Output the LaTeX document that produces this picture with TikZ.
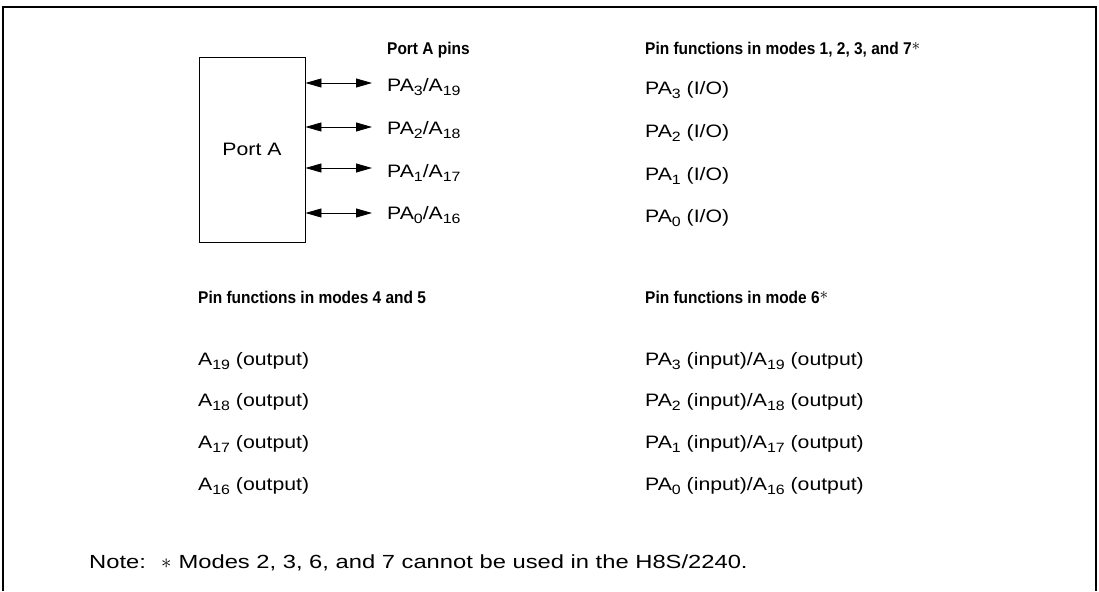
\documentclass[tikz,border=0pt]{standalone}
\usepackage{fontspec}
\setmainfont{Liberation Sans}
\newfontfamily\lblfont{Liberation Sans}[FakeStretch=1.18]
\newfontfamily\notefont{Liberation Sans}[FakeStretch=1.25]
\newfontfamily\hdrfont{Liberation Sans}[FakeStretch=0.91]
\usetikzlibrary{arrows.meta}
\newcommand{\sbx}[1]{\raisebox{-0.45ex}{\fontsize{13.5}{14}\selectfont #1}}
\newcommand{\astsup}{\raisebox{0.45ex}{\normalfont\fontsize{18}{18}\selectfont$\ast$}}
\newcommand{\noteast}{{\normalfont\fontsize{21}{21}\selectfont$\ast$}}
\begin{document}
\begin{tikzpicture}[x=1pt,y=-1pt,
  txt/.style={anchor=base west,inner sep=0pt,font=\lblfont\fontsize{18}{20}\selectfont},
  hdr/.style={anchor=base west,inner sep=0pt,font=\hdrfont\fontsize{17}{20}\selectfont\bfseries},
  notest/.style={anchor=base west,inner sep=0pt,font=\notefont\fontsize{19}{21}\selectfont},
  boxst/.style={draw,line width=0.9pt,minimum width=106pt,minimum height=185pt,inner sep=0pt,font=\lblfont\fontsize{18}{20}\selectfont},
  bidir/.style={line width=0.8pt,{Triangle[length=16pt,width=9pt]}-{Triangle[length=16pt,width=9pt]}}
]
\useasboundingbox (0,0) rectangle (1099,591);
\draw[line width=2pt] (3,591) -- (3,7) -- (1096,7) -- (1096,591);

\node[boxst] (portA) at (252,149.5) {Port A};

\node[hdr] (hpins) at (387,54.5) {Port A pins};
\node[hdr] (hm1) at (645,54.5) {Pin functions in modes 1, 2, 3, and 7\astsup};

\coordinate (e3) at (372,83);
\coordinate (e2) at (372,127);
\coordinate (e1) at (372,168);
\coordinate (e0) at (372,213);
\node[txt] (p3) at (387,91.5) {PA\sbx{3}/A\sbx{19}};
\node[txt] (p2) at (387,134.5) {PA\sbx{2}/A\sbx{18}};
\node[txt] (p1) at (387,177.5) {PA\sbx{1}/A\sbx{17}};
\node[txt] (p0) at (387,219.5) {PA\sbx{0}/A\sbx{16}};
\draw[bidir] (portA.east |- e3) -- (e3);
\draw[bidir] (portA.east |- e2) -- (e2);
\draw[bidir] (portA.east |- e1) -- (e1);
\draw[bidir] (portA.east |- e0) -- (e0);

\node[txt] (io3) at (645,94.5) {PA\sbx{3} (I/O)};
\node[txt] (io2) at (645,137.5) {PA\sbx{2} (I/O)};
\node[txt] (io1) at (645,180.5) {PA\sbx{1} (I/O)};
\node[txt] (io0) at (645,222.5) {PA\sbx{0} (I/O)};

\node[hdr] (hm4) at (198,303.5) {Pin functions in modes 4 and 5};
\node[hdr] (hm6) at (645,303.5) {Pin functions in mode 6\astsup};

\node[txt] (o19) at (198,365) {A\sbx{19} (output)};
\node[txt] (o18) at (198,406) {A\sbx{18} (output)};
\node[txt] (o17) at (198,448) {A\sbx{17} (output)};
\node[txt] (o16) at (198,490) {A\sbx{16} (output)};

\node[txt] (m3) at (645,365) {PA\sbx{3} (input)/A\sbx{19} (output)};
\node[txt] (m2) at (645,406) {PA\sbx{2} (input)/A\sbx{18} (output)};
\node[txt] (m1) at (645,448) {PA\sbx{1} (input)/A\sbx{17} (output)};
\node[txt] (m0) at (645,490) {PA\sbx{0} (input)/A\sbx{16} (output)};

\node[notest] (noteL) at (89,568) {Note:};
\node[notest] (noteT) at (161,568) {\noteast\hspace{7pt}Modes 2, 3, 6, and 7 cannot be used in the H8S/2240.};
\end{tikzpicture}
\end{document}
